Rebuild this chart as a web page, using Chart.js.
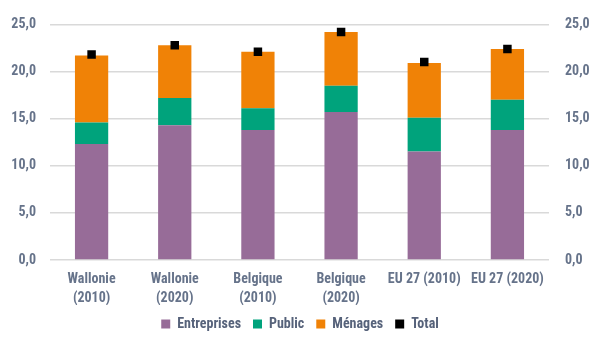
<!DOCTYPE html>
<html>
<head>
<meta charset="utf-8">
<script src="https://cdn.jsdelivr.net/npm/chart.js@4/dist/chart.umd.min.js"></script>
<style>
html,body{margin:0;padding:0;background:#fff;}
#wrap{width:600px;height:356px;position:relative;}
</style>
</head>
<body>
<div id="wrap"><canvas id="c" width="600" height="356"></canvas></div>
<script>
const categories = [["Wallonie","(2010)"],["Wallonie","(2020)"],["Belgique","(2010)"],["Belgique","(2020)"],"EU 27 (2010)","EU 27 (2020)"];
const entreprises = [12.3, 14.3, 13.8, 15.7, 11.5, 13.8];
const publicSector = [2.3, 2.9, 2.3, 2.8, 3.6, 3.2];
const menages = [7.1, 5.6, 6.0, 5.7, 5.8, 5.4];
const total = [21.8, 22.8, 22.1, 24.2, 21.0, 22.4];
const yTicks = [0, 5, 10, 15, 20, 25];

const fontFam = "'Roboto Condensed','Open Sans Condensed',sans-serif";
const txt = '#66738a';
const fmt = v => v.toFixed(1).replace('.', ',');

new Chart(document.getElementById('c'), {
  data: {
    labels: categories,
    datasets: [
      {type:'bar', label:'Entreprises', data:entreprises, backgroundColor:'#976c98', stack:'s', order:1, categoryPercentage:0.8, barPercentage:0.5},
      {type:'bar', label:'Public', data:publicSector, backgroundColor:'#00a37c', stack:'s', order:1, categoryPercentage:0.8, barPercentage:0.5},
      {type:'bar', label:'Ménages', data:menages, backgroundColor:'#f08206', stack:'s', order:1, categoryPercentage:0.8, barPercentage:0.5},
      {type:'line', label:'Total', data:total, showLine:false, pointStyle:'rect', pointRadius:6, pointHoverRadius:6,
       backgroundColor:'#000', borderColor:'#000', borderWidth:0, order:0}
    ]
  },
  options: {
    responsive:false,
    animation:false,
    layout:{autoPadding:false, padding:{left:10, right:10, top:7, bottom:15}},
    plugins:{
      tooltip:{enabled:false},
      legend:{
        position:'bottom',
        labels:{
          boxWidth:9, boxHeight:9, padding:12,
          color:'#56627a',
          font:{family:fontFam, size:14, weight:'bold'},
          generateLabels:(chart)=>chart.data.datasets.map((d,i)=>({
            text:d.label, fillStyle:d.backgroundColor, strokeStyle:d.backgroundColor, lineWidth:0,
            hidden:false, datasetIndex:i, fontColor:'#56627a'
          }))
        }
      }
    },
    scales:{
      x:{
        stacked:true,
        grid:{display:false, drawTicks:false},
        border:{display:false},
        ticks:{color:txt, font:{family:fontFam, size:14, weight:'bold', lineHeight:1.36}, maxRotation:0, autoSkip:false, padding:10},
        afterFit:(ax)=>{ax.height = 45;}
      },
      y:{
        stacked:true, min:0, max:25,
        afterBuildTicks:(ax)=>{ax.ticks = yTicks.map(v=>({value:v}));},
        grid:{color:'#d9d9d9', lineWidth:1.5, drawTicks:false},
        border:{display:false},
        ticks:{color:txt, font:{family:fontFam, size:14, weight:'bold'}, padding:14, callback:fmt},
        afterFit:(ax)=>{ax.width = 40;}
      },
      y2:{
        position:'right', min:0, max:25,
        afterBuildTicks:(ax)=>{ax.ticks = yTicks.map(v=>({value:v}));},
        grid:{display:false, drawTicks:false},
        border:{display:false},
        ticks:{color:txt, font:{family:fontFam, size:14, weight:'bold'}, padding:16, callback:fmt},
        afterFit:(ax)=>{ax.width = 41;}
      }
    }
  }
});
</script>
</body>
</html>
